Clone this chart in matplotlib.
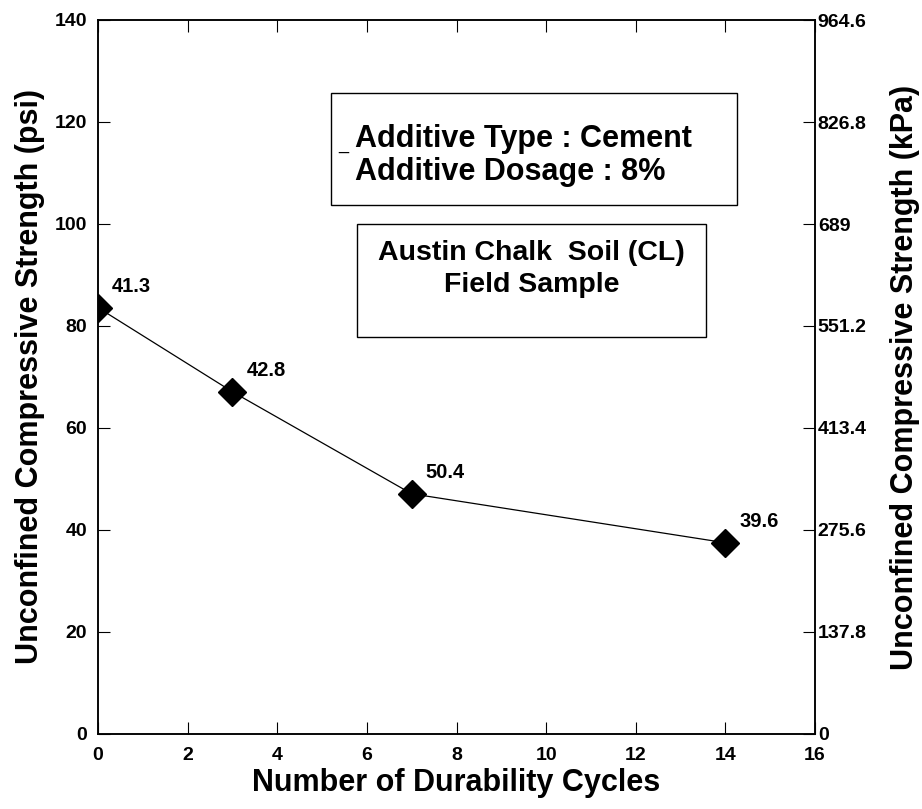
import matplotlib
matplotlib.use("Agg")
import matplotlib.pyplot as plt
from matplotlib.patches import Rectangle

plt.rcParams['font.family'] = ['Liberation Sans', 'DejaVu Sans']
plt.rcParams['font.weight'] = 'bold'

# data
cycles = [0, 3, 7, 14]
ucs_psi = [83.6, 67.1, 47.1, 37.5]
point_labels = ["41.3", "42.8", "50.4", "39.6"]
x_ticks = [0, 2, 4, 6, 8, 10, 12, 14, 16]
y_ticks = [0, 20, 40, 60, 80, 100, 120, 140]
kpa_ticks = [0, 137.8, 275.6, 413.4, 551.2, 689, 826.8, 964.6]
kpa_labels = ["0", "137.8", "275.6", "413.4", "551.2", "689", "826.8", "964.6"]

W, H = 922, 809
fig = plt.figure(figsize=(W / 100, H / 100), dpi=100)
L, R, T, B = 98, 815, 20, 734
ax = fig.add_axes([L / W, 1 - B / H, (R - L) / W, (B - T) / H])

ax.plot(cycles, ucs_psi, color='black', linewidth=0.9, marker='D',
        markersize=14, markerfacecolor='black', markeredgecolor='black', zorder=3)
for x, y, s in zip(cycles, ucs_psi, point_labels):
    ax.annotate(s, (x, y), xytext=(10, 11.5), textcoords='offset points',
                ha='left', va='baseline', fontsize=14.5, fontweight='bold')

ax.set_xlim(0, 16)
ax.set_ylim(0, 140)
ax.set_xticks(x_ticks)
ax.set_yticks(y_ticks)
ax.tick_params(axis='both', direction='in', length=8.6, width=0.8,
               labelsize=14, top=True, right=False)
ax.tick_params(axis='y', pad=8)
ax.tick_params(axis='x', pad=9)
for sp in ax.spines.values():
    sp.set_linewidth(1.1)

ax2 = ax.twinx()
ax2.set_ylim(0, 964.6)
ax2.set_yticks(kpa_ticks)
ax2.set_yticklabels(kpa_labels)
ax2.tick_params(axis='y', direction='in', length=8.6, width=0.8, labelsize=14, pad=2)
for sp in ax2.spines.values():
    sp.set_linewidth(1.1)

ax.set_xlabel("Number of Durability Cycles", fontsize=22, fontweight='bold')
ax.xaxis.set_label_coords(0.5, -0.048)
ax.set_ylabel("Unconfined Compressive Strength (psi)", fontsize=22,
              fontweight='bold', va='center')
ax.yaxis.set_label_coords(-0.095, 0.5)
ax2.set_ylabel("Unconfined Compressive Strength (kPa)", fontsize=22,
               fontweight='bold', va='center')
ax2.yaxis.set_label_coords(1.126, 0.5)

def axc(px, py):
    return (px - L) / (R - L), (B - py) / (B - T)

# box 1
x0, y1 = axc(331, 93)
x1, y0 = axc(737, 205)
ax.add_patch(Rectangle((x0, y0), x1 - x0, y1 - y0, transform=ax.transAxes,
                       fill=False, edgecolor='black', linewidth=1.0,
                       clip_on=False, zorder=4))
tx, ty = axc(355, 147)
ax.text(tx, ty, "Additive Type : Cement", transform=ax.transAxes,
        fontsize=22, fontweight='bold', ha='left', va='baseline')
tx, ty = axc(355, 180)
ax.text(tx, ty, "Additive Dosage : 8%", transform=ax.transAxes,
        fontsize=22, fontweight='bold', ha='left', va='baseline')
tx, ty = axc(338, 149)
ax.text(tx, ty, "_", transform=ax.transAxes, fontsize=13,
        fontweight='normal', ha='left', va='baseline')

# box 2
x0, y1 = axc(357, 224)
x1, y0 = axc(706, 337)
ax.add_patch(Rectangle((x0, y0), x1 - x0, y1 - y0, transform=ax.transAxes,
                       fill=False, edgecolor='black', linewidth=1.0,
                       clip_on=False, zorder=4))
tx, ty = axc(531.5, 260)
ax.text(tx, ty, "Austin Chalk  Soil (CL)", transform=ax.transAxes,
        fontsize=20.5, fontweight='bold', ha='center', va='baseline')
tx, ty = axc(531.5, 292)
ax.text(tx, ty, "Field Sample", transform=ax.transAxes,
        fontsize=20.5, fontweight='bold', ha='center', va='baseline')

fig.savefig("out.png", dpi=100)
